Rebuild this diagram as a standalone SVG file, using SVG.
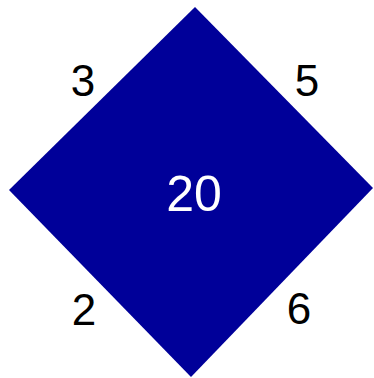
<svg xmlns="http://www.w3.org/2000/svg" width="374" height="378" viewBox="0 0 374 378">
<style>
text{font-family:"Liberation Sans",Arial,sans-serif;font-size:44px;text-anchor:middle}
.c{fill:#000}
.w{fill:#fff;font-size:50px}
</style>
<g id="diamond">
<polygon points="195,7 373,188 191,377 9,190" fill="#000099"/>
<text class="w" x="194" y="211">20</text>
</g>
<g id="labels">
<text class="c" x="83" y="96">3</text>
<text class="c" x="307" y="96">5</text>
<text class="c" x="84" y="325">2</text>
<text class="c" x="299" y="324">6</text>
</g>
</svg>
